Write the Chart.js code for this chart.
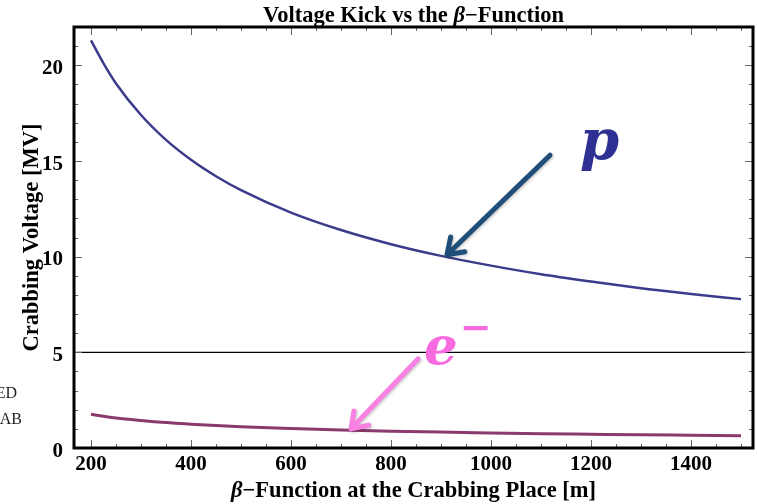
<!DOCTYPE html>
<html>
<head>
<meta charset="utf-8">
<script src="https://cdn.jsdelivr.net/npm/chart.js@4"></script>
<style>
  html, body { margin: 0; padding: 0; background: #fff; }
  canvas { display: block; }
</style>
</head>
<body>
<canvas id="kick-chart" width="757" height="504"></canvas>
<script>
// beta function at the crabbing place [m]
const beta = [200, 225, 250, 300, 350, 400, 450, 500, 600, 700, 800, 900, 1000, 1100, 1200, 1300, 1400, 1500];
// crabbing voltage [MV]
const protonV = [21.3, 20.1, 19.05, 17.4, 16.1, 15.06, 14.2, 13.47, 12.3, 11.39, 10.65, 10.04, 9.53, 9.08, 8.70, 8.35, 8.05, 7.78];
const electronV = [1.76, 1.66, 1.57, 1.44, 1.33, 1.245, 1.17, 1.11, 1.02, 0.94, 0.88, 0.83, 0.79, 0.75, 0.72, 0.69, 0.665, 0.64];
const refLevel = 5;

const xTicks = [200, 400, 600, 800, 1000, 1200, 1400];
const yTicks = [0, 5, 10, 15, 20];
const xMinorStep = 50;
const yMinorStep = 1;
const xMin = 166, xMax = 1524;
const yMin = 0, yMax = 22;

const SERIF = '"Liberation Serif", "Times New Roman", serif';
const MATH = '"DejaVu Serif", serif';

// annotations, anchored in data coordinates
const pArrow = { from: { x: 1118, y: 15.3 }, to: { x: 912, y: 10.1 }, color: '#1f4e79' };
const eArrow = { from: { x: 854, y: 4.65 }, to: { x: 720, y: 1.0 }, color: '#f981e4' };
const pLabel = { x: 1178, y: 15.12, color: '#2e3192' };
const eLabel = { x: 866, y: 4.4, color: '#f76ae0' };

function drawRuns(ctx, runs, x, y) {
    let total = 0;
    runs.forEach(r => { ctx.font = r.f; total += ctx.measureText(r.t).width; });
    let cx = x - total / 2;
    ctx.textAlign = 'left';
    runs.forEach(r => {
        ctx.font = r.f;
        ctx.fillText(r.t, cx, y);
        cx += ctx.measureText(r.t).width;
    });
}

function drawArrow(ctx, x1, y1, x2, y2, color) {
    const ang = Math.atan2(y2 - y1, x2 - x1);
    const head = 18;
    ctx.save();
    ctx.strokeStyle = color;
    ctx.lineWidth = 5;
    ctx.lineCap = 'round';
    ctx.lineJoin = 'round';
    ctx.shadowColor = 'rgba(0,0,0,0.25)';
    ctx.shadowBlur = 3;
    ctx.shadowOffsetX = 1;
    ctx.shadowOffsetY = 1;
    ctx.beginPath();
    ctx.moveTo(x1, y1);
    ctx.lineTo(x2, y2);
    ctx.moveTo(x2 - head * Math.cos(ang - 0.6), y2 - head * Math.sin(ang - 0.6));
    ctx.lineTo(x2, y2);
    ctx.lineTo(x2 - head * Math.cos(ang + 0.6), y2 - head * Math.sin(ang + 0.6));
    ctx.stroke();
    ctx.restore();
}

const decorPlugin = {
    id: 'decor',
    afterDraw(chart) {
        const { ctx, chartArea: a, scales: { x, y } } = chart;
        ctx.save();

        // inward ticks on all four sides
        ctx.strokeStyle = '#666';
        ctx.lineWidth = 1;
        ctx.beginPath();
        for (let v = Math.ceil(xMin / xMinorStep) * xMinorStep; v <= xMax; v += xMinorStep) {
            const px = Math.round(x.getPixelForValue(v)) + 0.5;
            const len = xTicks.includes(v) ? 8 : 4;
            ctx.moveTo(px, a.bottom); ctx.lineTo(px, a.bottom - len);
            ctx.moveTo(px, a.top); ctx.lineTo(px, a.top + len);
        }
        for (let v = yMin; v <= yMax; v += yMinorStep) {
            const py = Math.round(y.getPixelForValue(v)) + 0.5;
            const len = yTicks.includes(v) ? 8 : 4;
            ctx.moveTo(a.left, py); ctx.lineTo(a.left + len, py);
            ctx.moveTo(a.right, py); ctx.lineTo(a.right - len, py);
        }
        ctx.stroke();

        // frame
        ctx.strokeStyle = '#000';
        ctx.lineWidth = 3;
        ctx.strokeRect(a.left, a.top, a.right - a.left, a.bottom - a.top);

        // titles
        ctx.fillStyle = '#000';
        ctx.textBaseline = 'alphabetic';
        const cx = (a.left + a.right) / 2;
        drawRuns(ctx, [
            { t: 'Voltage Kick vs the ', f: 'bold 22.5px ' + SERIF },
            { t: 'β', f: 'italic bold 22.5px ' + SERIF },
            { t: '−Function', f: 'bold 22.5px ' + SERIF }
        ], cx, 22);
        drawRuns(ctx, [
            { t: 'β', f: 'italic bold 22.5px ' + SERIF },
            { t: '−Function at the Crabbing Place [m]', f: 'bold 22.5px ' + SERIF }
        ], cx, 497);
        ctx.save();
        ctx.translate(38, (a.top + a.bottom) / 2);
        ctx.rotate(-Math.PI / 2);
        drawRuns(ctx, [{ t: 'Crabbing Voltage [MV]', f: 'bold 22.5px ' + SERIF }], 0, 0);
        ctx.restore();

        // cut-off labels at the left edge
        ctx.font = '16px ' + SERIF;
        ctx.fillStyle = '#222';
        ctx.textAlign = 'right';
        ctx.fillText('ED', 17, 398);
        ctx.fillText('AB', 22, 424);

        // arrows
        drawArrow(ctx, x.getPixelForValue(pArrow.from.x), y.getPixelForValue(pArrow.from.y),
            x.getPixelForValue(pArrow.to.x), y.getPixelForValue(pArrow.to.y), pArrow.color);
        drawArrow(ctx, x.getPixelForValue(eArrow.from.x), y.getPixelForValue(eArrow.from.y),
            x.getPixelForValue(eArrow.to.x), y.getPixelForValue(eArrow.to.y), eArrow.color);

        // particle labels
        ctx.textAlign = 'left';
        ctx.font = 'italic bold 56px ' + MATH;
        ctx.fillStyle = pLabel.color;
        ctx.fillText('p', x.getPixelForValue(pLabel.x), y.getPixelForValue(pLabel.y));
        const ex = x.getPixelForValue(eLabel.x), ey = y.getPixelForValue(eLabel.y);
        ctx.font = 'italic bold 53px ' + MATH;
        ctx.fillStyle = eLabel.color;
        ctx.fillText('e', ex, ey);
        const ew = ctx.measureText('e').width;
        ctx.font = 'bold 38px ' + MATH;
        ctx.fillText('−', ex + ew + 2, ey - 24);

        ctx.restore();
    }
};

new Chart(document.getElementById('kick-chart').getContext('2d'), {
    type: 'line',
    data: {
        datasets: [
            {
                label: 'p',
                data: beta.map((b, i) => ({ x: b, y: protonV[i] })),
                borderColor: '#3b3b8b',
                borderWidth: 2.5,
                pointRadius: 0,
                cubicInterpolationMode: 'monotone',
                fill: false
            },
            {
                label: 'e-',
                data: beta.map((b, i) => ({ x: b, y: electronV[i] })),
                borderColor: '#8b3a6c',
                borderWidth: 3,
                pointRadius: 0,
                cubicInterpolationMode: 'monotone',
                fill: false
            },
            {
                label: 'ref',
                data: [{ x: xMin, y: refLevel }, { x: xMax, y: refLevel }],
                borderColor: '#000',
                borderWidth: 1.2,
                pointRadius: 0,
                fill: false
            }
        ]
    },
    options: {
        responsive: false,
        animation: false,
        layout: { padding: { top: 27, right: 4, left: 0, bottom: 0 } },
        scales: {
            x: {
                type: 'linear',
                min: xMin,
                max: xMax,
                afterBuildTicks: s => { s.ticks = xTicks.map(v => ({ value: v })); },
                afterFit: s => { s.height = 56; },
                ticks: {
                    font: { family: SERIF, size: 21, weight: 'bold' },
                    color: '#000', padding: -4, maxRotation: 0, autoSkip: false,
                    callback: v => String(v)
                },
                grid: { display: false },
                border: { display: false }
            },
            y: {
                type: 'linear',
                min: yMin,
                max: yMax,
                afterBuildTicks: s => { s.ticks = yTicks.map(v => ({ value: v })); },
                afterFit: s => { s.width = 74; },
                ticks: {
                    // empty first line nudges the digits down to sit on the tick
                    font: { family: SERIF, size: 21, weight: 'bold', lineHeight: 0.3 },
                    color: '#000', padding: 3,
                    callback: v => ['', String(v)]
                },
                grid: { display: false },
                border: { display: false }
            }
        },
        plugins: {
            legend: { display: false },
            tooltip: { enabled: false },
            title: { display: false }
        }
    },
    plugins: [decorPlugin]
});
</script>
</body>
</html>
